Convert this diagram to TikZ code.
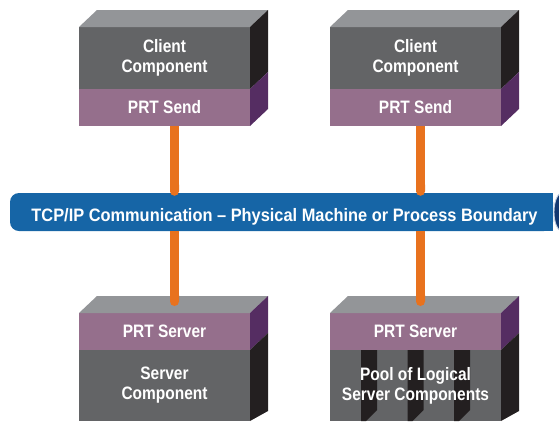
\documentclass[tikz,border=0pt]{standalone}
\usepackage{fontspec}
\setmainfont{Liberation Sans}
\newfontfamily\blockfont{Liberation Sans}[FakeStretch=0.86]
\newfontfamily\pipefont{Liberation Sans}[FakeStretch=0.91]
\usetikzlibrary{arrows.meta}
\definecolor{topgray}{RGB}{147,149,152}
\definecolor{frontgray}{RGB}{99,100,102}
\definecolor{sideblack}{RGB}{35,31,32}
\definecolor{purplefront}{RGB}{149,111,140}
\definecolor{purpleside}{RGB}{85,45,98}
\definecolor{pipeblue}{RGB}{22,101,166}
\definecolor{pipecap}{RGB}{18,55,112}
\definecolor{pipeedge}{RGB}{190,205,225}
\definecolor{wireorange}{RGB}{232,114,30}
\newcommand\lbl{\blockfont\fontsize{18}{20}\selectfont\bfseries}
\newcommand\plbl{\pipefont\fontsize{18}{20}\selectfont\bfseries}
\begin{document}
\begin{tikzpicture}[x=1pt,y=-1pt,
  blockfront/.style={rectangle, inner sep=0pt, outer sep=0pt, minimum width=171pt,
     fill=frontgray, text=white, font=\lbl, align=center},
  blockband/.style={blockfront, fill=purplefront, minimum height=37pt},
  topface/.style={fill=topgray},
  sideface/.style={fill=sideblack},
  bandside/.style={fill=purpleside},
  wire/.style={draw=wireorange, line width=9pt, line cap=butt, -{Round Cap[]}},
  pipebody/.style={rectangle, rounded corners=9pt, fill=pipeblue, inner sep=0pt,
     minimum width=543pt, minimum height=38pt},
  pipetext/.style={text=white, font=\plbl, inner sep=0pt}]
\useasboundingbox (0,0) rectangle (559,421);
\clip (0,0) rectangle (559,421);

% ---- top blocks ----
\node[blockfront, minimum height=62pt] (compA) at (164.5,58) {Client\\Component};
\node[blockband] (sendA) at (164.5,107.5) {PRT Send};
\node[blockfront, minimum height=62pt] (compB) at (415.5,58) {Client\\Component};
\node[blockband] (sendB) at (415.5,107.5) {PRT Send};
\foreach \c/\s in {compA/sendA, compB/sendB}{
  \fill[topface] (\c.north west) -- ++(18,-17) -- ([xshift=18pt,yshift=17pt]\c.north east) -- (\c.north east) -- cycle;
  \fill[sideface] (\c.north east) -- ++(18,-17) -- ++(0,62) -- (\c.south east) -- cycle;
  \fill[bandside] (\s.north east) -- ++(18,-17) -- ++(0,37) -- (\s.south east) -- cycle;
}

% ---- bottom blocks ----
\node[blockband] (prtA) at (164.5,331.5) {PRT Server};
\node[blockfront, minimum height=71pt] (servA) at (164.5,385.5) {Server\\Component};
\node[blockband] (prtB) at (415.5,331.5) {PRT Server};
\node[blockfront, minimum height=71pt] (poolB) at (415.5,385.5) {};
\foreach \s in {361,407.5,454}{
  \fill[sideface] (\s,350) -- ++(16,0) -- ++(0,60) -- ++(-11,11) -- ++(-5,0) -- cycle;
}
\node[text=white, font=\lbl, align=center, inner sep=0pt] (poolText) at (poolB.center) {Pool of Logical\\Server Components};
\foreach \p/\f in {prtA/servA, prtB/poolB}{
  \fill[topface] (\p.north west) -- ++(18,-17) -- ([xshift=18pt,yshift=17pt]\p.north east) -- (\p.north east) -- cycle;
  \fill[bandside] (\p.north east) -- ++(18,-17) -- ++(0,37) -- (\p.south east) -- cycle;
  \fill[sideface] (\f.north east) -- ++(18,-17) -- ++(0,78) -- (\f.south east) -- cycle;
}

% ---- pipe ----
\fill[pipeblue] (40,193) rectangle (553,231);
\node[pipebody] (pipe) at (281.5,212) {};
\fill[pipecap, draw=pipeedge, line width=0.9pt] (562,212) ellipse [x radius=8pt, y radius=19pt];
\node[pipetext, anchor=base] (pipelabel) at (284.5,221) {TCP/IP Communication – Physical Machine or Process Boundary};

% ---- connectors ----
\coordinate (inA) at ([xshift=10pt,yshift=-3pt]sendA.south |- pipe.north);
\coordinate (inB) at ([xshift=5pt,yshift=-3pt]sendB.south |- pipe.north);
\coordinate (outA) at ([xshift=10pt,yshift=7pt]prtA.north);
\coordinate (outB) at ([xshift=5pt,yshift=7pt]prtB.north);
\draw[wire] ([xshift=10pt]sendA.south) -- (inA);
\draw[wire] ([xshift=5pt]sendB.south) -- (inB);
\draw[wire] (outA |- pipe.south) -- (outA);
\draw[wire] (outB |- pipe.south) -- (outB);
\end{tikzpicture}
\end{document}
